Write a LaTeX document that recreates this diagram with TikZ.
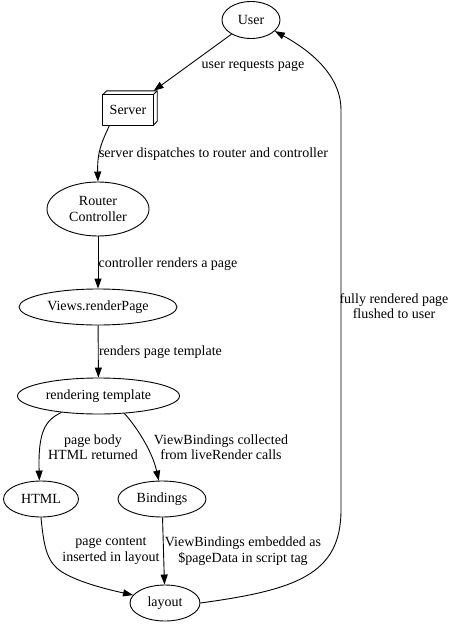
\documentclass[tikz,border=0pt]{standalone}
\usepackage{fontspec}
\setmainfont{Liberation Serif}
\usetikzlibrary{arrows.meta,shapes.geometric,calc}
\begin{document}
\begin{tikzpicture}[x=1pt,y=-1pt,
  every node/.style={font=\fontsize{14}{15.5}\selectfont},
  ell/.style={draw,ellipse,inner sep=0pt,line width=0.9pt},
  lbl/.style={align=center,inner sep=0pt},
  arr/.style={draw,line width=0.9pt,-{Triangle[length=10pt,width=7pt]}},
  thin/.style={line width=0.9pt,line join=round}]
\useasboundingbox (0,0) rectangle (453,626);
% nodes
\node[ell,minimum width=58pt,minimum height=37pt] (user) at (251,20) {User};
\node[rectangle,minimum width=54pt,minimum height=34pt,inner sep=0pt,
  label={[xshift=-2pt,yshift=-2pt,inner sep=0pt]center:Server}] (server) at (130,108) {};
\draw[thin] (server.south west) rectangle ($(server.north east)+(-4,4)$);
\draw[thin] ($(server.north west)+(0,4)$) -- ($(server.north west)+(4,0)$) -- (server.north east) -- ($(server.south east)+(0,-4)$) -- ($(server.south east)+(-4,0)$);
\draw[thin] ($(server.north east)+(-4,4)$) -- (server.north east);
\node[ell,minimum width=102pt,minimum height=54pt,align=center,font=\fontsize{14}{16}\selectfont] (router) at (98,209) {Router\\Controller};
\node[ell,minimum width=158pt,minimum height=36pt] (views) at (98,307) {Views.renderPage};
\node[ell,minimum width=162pt,minimum height=36pt] (rt) at (98.5,396) {rendering template};
\node[ell,minimum width=75pt,minimum height=36pt] (html) at (41,499) {HTML};
\node[ell,minimum width=88pt,minimum height=36pt] (bind) at (162,499) {Bindings};
\node[ell,minimum width=70pt,minimum height=36pt] (layout) at (165,603) {layout};
% edges
\draw[arr] (user) -- (server);
\draw[arr] (server.220) .. controls (103,140) and (97,150) .. (router.north);
\draw[arr] (router) -- (views);
\draw[arr] (views) -- (rt);
\draw[arr] (rt.204) .. controls (45,420) and (38,432) .. (html.95);
\draw[arr] (rt.-34) .. controls (135,425) and (152,450) .. (bind.100);
\coordinate (hl) at (62,572);
\draw[arr] (html.south) .. controls (44,550) and (48,563) .. (hl) .. controls (80,583) and (110,590) .. (layout.166);
\draw[arr] (bind) -- (layout);
\coordinate (b1) at (341,510);
\coordinate (b2) at (341,110);
\draw[arr] (layout.east) .. controls (295,590) and (341,575) .. (b1) -- (b2) .. controls (341,70) and (300,45) .. (user.-25);
% labels
\node[lbl] (l1) at (253,66) {user requests page};
\node[lbl] (l2) at (213.5,154) {server dispatches to router and controller};
\node[lbl] (l3) at (168,264) {controller renders a page};
\node[lbl] (l4) at (160.5,352) {renders page template};
\node[lbl] (l5) at (93,447) {page body\\HTML returned};
\node[lbl] (l6) at (221,447) {ViewBindings collected\\from liveRender calls};
\node[lbl] (l7) at (111,551) {page content\\inserted in layout};
\node[lbl] (l8) at (243,551) {ViewBindings embedded as\\\$pageData in script tag};
\node[lbl] (l9) at (394,306) {fully rendered page\\flushed to user};
\end{tikzpicture}
\end{document}
